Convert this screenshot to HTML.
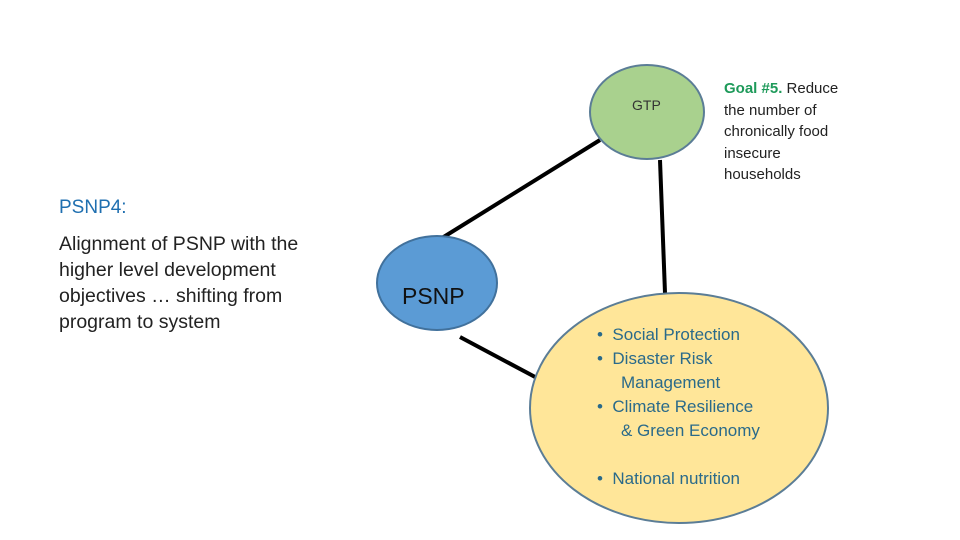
<!DOCTYPE html>
<html><head><style>
body{margin:0;width:960px;height:540px;background:#fff;position:relative;overflow:hidden;font-family:"Liberation Sans",sans-serif}
.t{position:absolute;white-space:nowrap}
</style></head><body>
<svg width="960" height="540" style="position:absolute;left:0;top:0">
<line x1="442" y1="238" x2="600" y2="140" stroke="#000" stroke-width="4"/>
<line x1="660" y1="160" x2="665" y2="293" stroke="#000" stroke-width="4"/>
<line x1="460" y1="337" x2="537" y2="378" stroke="#000" stroke-width="4"/>
<ellipse cx="647" cy="112" rx="57" ry="47" fill="#a9d18e" stroke="#5b7d96" stroke-width="2"/>
<ellipse cx="437" cy="283" rx="60" ry="47" fill="#5b9bd5" stroke="#41719c" stroke-width="2"/>
<ellipse cx="679" cy="408" rx="149" ry="115" fill="#ffe699" stroke="#5b7d96" stroke-width="2"/>
</svg>
<div class="t" style="left:632px;top:97px;font-size:14px;color:#333">GTP</div>
<div class="t" style="left:724px;top:78px;font-size:15px;line-height:21.5px;color:#222">
<span style="color:#1e9a5a;font-weight:bold">Goal #5.</span> Reduce<br>the number of<br>chronically food<br>insecure<br>households</div>
<div class="t" style="left:59px;top:197px;font-size:19px;color:#1f6fb0">PSNP4:</div>
<div class="t" style="left:59px;top:231px;font-size:19.5px;line-height:26px;color:#222">Alignment of PSNP with the<br>higher level development<br>objectives … shifting from<br>program to system</div>
<div class="t" style="left:402px;top:283px;font-size:23px;color:#111">PSNP</div>
<div class="t" style="left:597px;top:323px;font-size:17px;line-height:24px;color:#2a6a8a">
<div>•&nbsp;&nbsp;Social Protection</div>
<div>•&nbsp;&nbsp;Disaster Risk</div>
<div style="padding-left:24px">Management</div>
<div>•&nbsp;&nbsp;Climate Resilience</div>
<div style="padding-left:24px">&amp; Green Economy</div>
<div>&nbsp;</div>
<div>•&nbsp;&nbsp;National nutrition</div>
</div>
</body></html>
